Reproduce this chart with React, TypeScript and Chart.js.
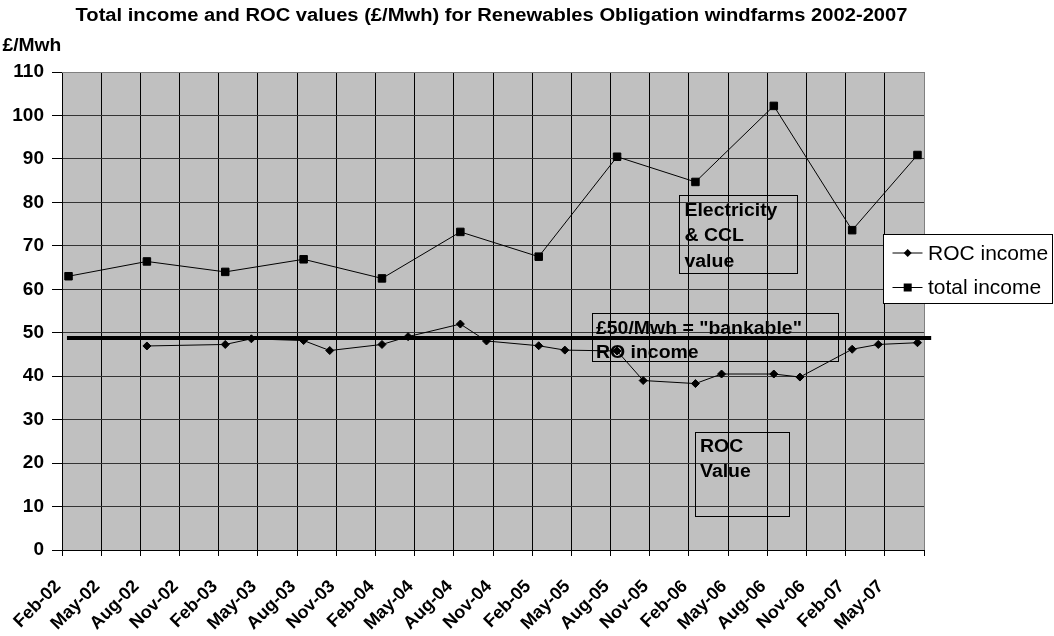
import React, { useEffect, useRef } from 'react';
import { Chart, registerables } from 'chart.js';

Chart.register(...registerables);

const xTickLabels = ['Feb-02','May-02','Aug-02','Nov-02','Feb-03','May-03','Aug-03','Nov-03','Feb-04','May-04','Aug-04','Nov-04','Feb-05','May-05','Aug-05','Nov-05','Feb-06','May-06','Aug-06','Nov-06','Feb-07','May-07'];

// months after Feb-02
const rocMonths = [6,12,14,18,20,24,26,30,32,36,38,42,44,48,50,54,56,60,62,65];
const rocIncome = [46.95,47.3,48.6,48.2,45.9,47.3,49.1,52.0,48.1,47.0,46.0,45.8,39.0,38.3,40.5,40.5,39.8,46.2,47.3,47.7];

const totalMonths = [0,6,12,18,24,30,36,42,48,54,60,65];
const totalIncome = [63.0,66.4,64.0,66.9,62.5,73.2,67.5,90.5,84.7,102.2,73.6,90.9];

const seriesNames = ['ROC income', 'total income'];
const titleText = 'Total income and ROC values (£/Mwh) for Renewables Obligation windfarms 2002-2007';
const unitText = '£/Mwh';
const bankableLevel = 48.77;

const FONT = "'Liberation Sans', Arial, sans-serif";

const stretchText = (ctx: any, s: string, x: number, y: number, sx: number) => {
  ctx.save();
  ctx.translate(x, y);
  ctx.scale(sx, 1);
  ctx.fillText(s, 0, 0);
  ctx.restore();
};

const overlay = {
  id: 'overlay',
  beforeDraw(chart: any) {
    const { ctx, chartArea: a } = chart;
    ctx.save();
    ctx.fillStyle = '#C0C0C0';
    ctx.fillRect(a.left, a.top, a.right - a.left, a.bottom - a.top);
    ctx.restore();
  },
  beforeDatasetsDraw(chart: any) {
    const { ctx, chartArea: a } = chart;
    const xs = chart.scales.x;
    const ys = chart.scales.y;
    ctx.save();
    ctx.strokeStyle = '#808080';
    ctx.lineWidth = 1;
    ctx.beginPath();
    ctx.moveTo(a.left, a.top + 0.5);
    ctx.lineTo(a.right + 0.5, a.top + 0.5);
    ctx.lineTo(a.right + 0.5, a.bottom);
    ctx.stroke();

    const box = (x0: number, x1: number, y0: number, y1: number, lines: string[], dx: number, dy: number, lh: number) => {
      const l = Math.round(xs.getPixelForValue(x0)) + 0.5;
      const r = Math.round(xs.getPixelForValue(x1)) + 0.5;
      const t = Math.round(ys.getPixelForValue(y0)) + 0.5;
      const b = Math.round(ys.getPixelForValue(y1)) + 0.5;
      ctx.strokeStyle = '#000';
      ctx.lineWidth = 1;
      ctx.strokeRect(l, t, r - l, b - t);
      ctx.fillStyle = '#000';
      ctx.font = `bold 18px ${FONT}`;
      ctx.textAlign = 'left';
      ctx.textBaseline = 'alphabetic';
      lines.forEach((s, i) => stretchText(ctx, s, l + dx, t + dy + i * lh, 1.08));
    };
    box(47.23, 56.24, 81.6, 63.7, ['Electricity', '& CCL', 'value'], 5, 20, 25.5);
    box(40.55, 59.42, 54.6, 43.5, ['£50/Mwh = "bankable"', 'RO income'], 3.5, 20.5, 24);
    box(48.43, 55.65, 27.19, 7.81, ['ROC', 'Value'], 4.5, 19.5, 25);

    const yl = ys.getPixelForValue(bankableLevel);
    ctx.strokeStyle = '#000';
    ctx.lineWidth = 4;
    ctx.beginPath();
    ctx.moveTo(xs.getPixelForValue(0.38), yl);
    ctx.lineTo(xs.getPixelForValue(66.55), yl);
    ctx.stroke();
    ctx.restore();
  },
  afterDraw(chart: any) {
    const { ctx } = chart;
    ctx.save();
    ctx.fillStyle = '#000';
    ctx.font = `bold 18px ${FONT}`;
    ctx.textAlign = 'center';
    ctx.textBaseline = 'alphabetic';
    stretchText(ctx, titleText, 491.5, 21, 1.12);
    ctx.textAlign = 'left';
    stretchText(ctx, unitText, 2.5, 50.5, 1.07);

    const lx = 883.5, ly = 234.5, lw = 169, lh = 69;
    ctx.fillStyle = '#fff';
    ctx.fillRect(lx, ly, lw, lh);
    ctx.strokeStyle = '#000';
    ctx.lineWidth = 1;
    ctx.strokeRect(lx, ly, lw, lh);
    const items = [
      { y: 253, style: 'diamond' },
      { y: 287.5, style: 'square' },
    ];
    items.forEach((it, i) => {
      ctx.strokeStyle = '#000';
      ctx.lineWidth = 1;
      ctx.beginPath();
      ctx.moveTo(892.5, it.y);
      ctx.lineTo(922.5, it.y);
      ctx.stroke();
      ctx.fillStyle = '#000';
      ctx.beginPath();
      if (it.style === 'diamond') {
        ctx.moveTo(907.7, it.y - 4);
        ctx.lineTo(911.7, it.y);
        ctx.lineTo(907.7, it.y + 4);
        ctx.lineTo(903.7, it.y);
        ctx.closePath();
        ctx.fill();
      } else {
        ctx.fillRect(903.7, it.y - 4, 8, 8);
      }
      ctx.font = `21px ${FONT}`;
      ctx.textBaseline = 'middle';
      ctx.textAlign = 'left';
      ctx.fillText(seriesNames[i], 928, it.y + 1);
    });
    ctx.restore();
  },
};

export default function App() {
  const ref = useRef<HTMLCanvasElement | null>(null);
  useEffect(() => {
    if (!ref.current) return;
    const chart = new Chart(ref.current, {
      type: 'line',
      data: {
        datasets: [
          {
            label: seriesNames[0],
            data: rocMonths.map((m, i) => ({ x: m + 0.5, y: rocIncome[i] })),
            borderColor: '#000',
            backgroundColor: '#000',
            borderWidth: 1,
            pointStyle: 'rectRot',
            pointRadius: 4,
            pointBorderWidth: 1,
            tension: 0,
          },
          {
            label: seriesNames[1],
            data: totalMonths.map((m, i) => ({ x: m + 0.5, y: totalIncome[i] })),
            borderColor: '#000',
            backgroundColor: '#000',
            borderWidth: 1,
            pointStyle: 'rect',
            pointRadius: 5.3,
            pointBorderWidth: 1,
            tension: 0,
          },
        ],
      },
      options: {
        animation: false,
        responsive: true,
        maintainAspectRatio: false,
        layout: { padding: { top: 72, right: 130, left: 0, bottom: 0 } },
        plugins: {
          legend: { display: false },
          title: { display: false },
          tooltip: { enabled: false },
        },
        scales: {
          x: {
            type: 'linear',
            min: 0,
            max: 66,
            afterFit: (s: any) => { s.height = 86; },
            ticks: {
              stepSize: 3,
              autoSkip: false,
              maxRotation: 45,
              minRotation: 45,
              color: '#000',
              padding: 20,
              labelOffset: -4,
              font: { family: FONT, size: 18, weight: 'bold' },
              callback: (v: any) => xTickLabels[Math.round(v / 3)] ?? '',
            },
            grid: {
              color: (c: any) => (c.tick && c.tick.value === 66 ? '#808080' : '#000'),
              tickColor: '#000',
              tickLength: 6,
              lineWidth: 1,
            },
            border: { color: '#000', width: 1 },
          },
          y: {
            min: 0,
            max: 110,
            afterFit: (s: any) => { s.width = 62; },
            ticks: {
              stepSize: 10,
              color: '#000',
              padding: 8,
              font: { family: FONT, size: 19, weight: 'bold' },
            },
            grid: {
              color: (c: any) => (c.tick && c.tick.value === 110 ? '#808080' : '#333'),
              tickColor: '#000',
              tickLength: 10,
              lineWidth: 1,
            },
            border: { color: '#000', width: 1 },
          },
        },
      },
      plugins: [overlay],
    } as any);
    return () => chart.destroy();
  }, []);
  return (
    <div style={{ position: 'absolute', left: 0, top: 0, width: 1054, height: 636 }}>
      <canvas ref={ref} />
    </div>
  );
}
